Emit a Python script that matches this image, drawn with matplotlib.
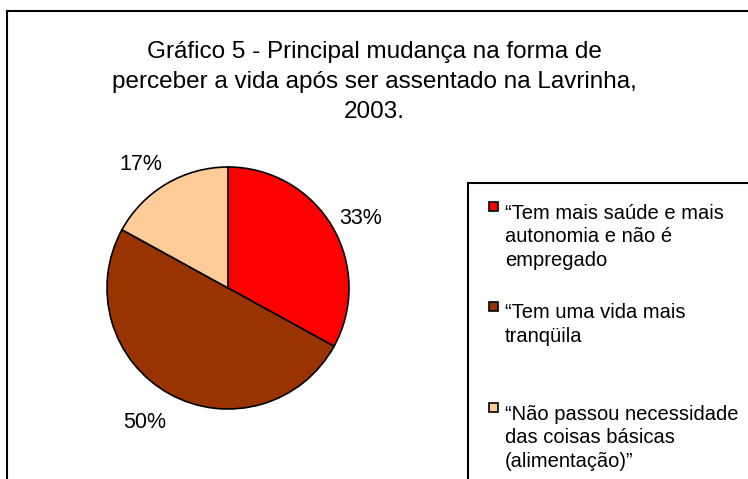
import matplotlib.pyplot as plt
from matplotlib.patches import Rectangle

plt.rcParams['font.family'] = ['Liberation Sans', 'DejaVu Sans']

# data
labels = ["\u201cTem mais saúde e mais\nautonomia e não é\nempregado",
          "\u201cTem uma vida mais\ntranqüila",
          "\u201cNão passou necessidade\ndas coisas básicas\n(alimentação)\u201d"]
shares = [33, 50, 17]
colors = ["#FF0000", "#993300", "#FFCC99"]
title = "Gráfico 5 - Principal mudança na forma de\nperceber a vida após ser assentado na Lavrinha,\n2003."

W, H = 748, 479
fig = plt.figure(figsize=(W / 100, H / 100), dpi=100)

def fx(px):
    return px / W

def fy(py):
    return 1 - py / H

# outer chart border (right and bottom run off the picture)
fig.patches.append(Rectangle((fx(7), fy(490)), fx(800), (490 - 11) / H,
                             transform=fig.transFigure, fill=False, lw=1.5, ec="black"))

# title (baseline of the last line)
fig.text(fx(374), fy(118), title, ha="center", va="baseline", fontsize=17.5,
         linespacing=1.46, multialignment="center")

# pie
cx, cy, r = 228, 288, 121
ax = fig.add_axes([fx(cx - r), fy(cy + r), r * 2 / W, r * 2 / H])
wedges, texts, autotexts = ax.pie(shares, colors=colors, startangle=90, counterclock=False,
                                  autopct="%.0f%%", pctdistance=1.27,
                                  wedgeprops=dict(edgecolor="black", linewidth=1.2),
                                  textprops=dict(fontsize=15.5))
# excel puts the labels a little off the radial line
nudges = [(0, -0.075), (-0.075, 0), (-0.075, -0.075)]
for t, (dx, dy) in zip(autotexts, nudges):
    x, y = t.get_position()
    t.set_position((x + dx, y + dy))
ax.set_xlim(-1, 1)
ax.set_ylim(-1, 1)
ax.set_aspect("equal")
ax.axis("off")

# legend box
fig.patches.append(Rectangle((fx(468), fy(500)), fx(400), (500 - 183) / H,
                             transform=fig.transFigure, fill=False, lw=1.5, ec="black"))
marker_tops = [202, 302, 403]
last_baselines = [266, 342, 467]
for lab, col, mt, bl in zip(labels, colors, marker_tops, last_baselines):
    fig.patches.append(Rectangle((fx(489), fy(mt + 9)), fx(9), 9 / H,
                                 transform=fig.transFigure, fc=col, ec="black", lw=1.2))
    fig.text(fx(505), fy(bl), lab, ha="left", va="baseline", fontsize=14.5, linespacing=1.31)

fig.savefig("out.png", dpi=100)
